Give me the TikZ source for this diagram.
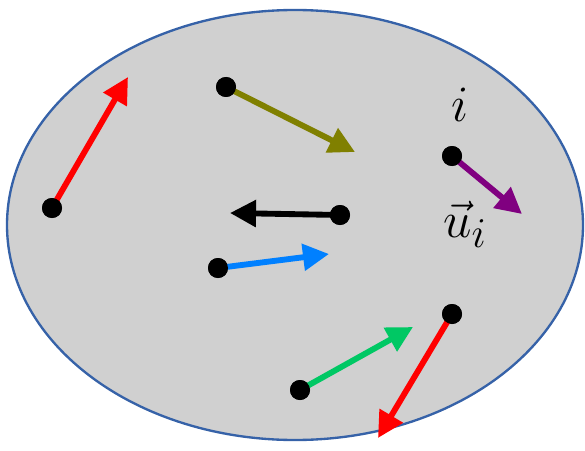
\documentclass[tikz,border=0pt]{standalone}
\usepackage{tikz}
\usetikzlibrary{arrows.meta}

\definecolor{cellgray}{RGB}{208,208,208}
\definecolor{rimblue}{RGB}{54,98,168}
\definecolor{olivevec}{RGB}{128,128,0}
\definecolor{bluevec}{RGB}{0,128,255}
\definecolor{greenvec}{RGB}{0,200,100}
\definecolor{purplevec}{RGB}{128,0,128}

\tikzset{
    dot/.style={circle, fill=black, inner sep=0pt, minimum size=20*0.03cm},
    vec/.style={line width=5pt, -{Triangle[length=26*0.03cm, width=26*0.03cm]}},
    lbl/.style={font=\Huge, inner sep=0pt}
}

\begin{document}
\begin{tikzpicture}[x=0.03cm, y=0.03cm]
    \useasboundingbox (0,0) rectangle (585,-451);

    % Define the cell
    \draw[rimblue, line width=2pt, fill=cellgray] (295,-225) ellipse [x radius=288, y radius=215];

    % Define the particles
    \node[dot] (p1) at (52,-208) {};
    \node[dot] (p2) at (226,-87) {};
    \node[dot] (p3) at (340,-215) {};
    \node[dot] (p4) at (218,-268) {};
    \node[dot] (p5) at (452,-156) {};
    \node[dot] (p6) at (300,-390) {};
    \node[dot] (p7) at (452,-314) {};

    % Define the arrow ends
    \coordinate (t1) at (128,-77);
    \coordinate (t2) at (355,-152);
    \coordinate (t3) at (230,-213);
    \coordinate (t4) at (329,-254);
    \coordinate (t5) at (522,-214);
    \coordinate (t6) at (413,-327);
    \coordinate (t7) at (378,-438);

    % Draw the velocities
    \draw[vec, red] (p1.center) -- (t1);
    \draw[vec, olivevec] (p2.center) -- (t2);
    \draw[vec, black] (p3.center) -- (t3);
    \draw[vec, bluevec] (p4.center) -- (t4);
    \draw[vec, purplevec] (p5.center) -- (t5);
    \draw[vec, greenvec] (p6.center) -- (t6);
    \draw[vec, red] (p7.center) -- (t7);

    % Redraw the particles on top
    \foreach \p in {p1,p2,p3,p4,p5,p6,p7}
        \fill (\p) circle (10);

    % Place the labels
    \node[lbl] (ilabel) at (460,-105) {\scalebox{1.75}{$i$}};
    \node[lbl] (ulabel) at (465,-224) {\scalebox{1.75}{$\vec{u}_i$}};

\end{tikzpicture}
\end{document}
